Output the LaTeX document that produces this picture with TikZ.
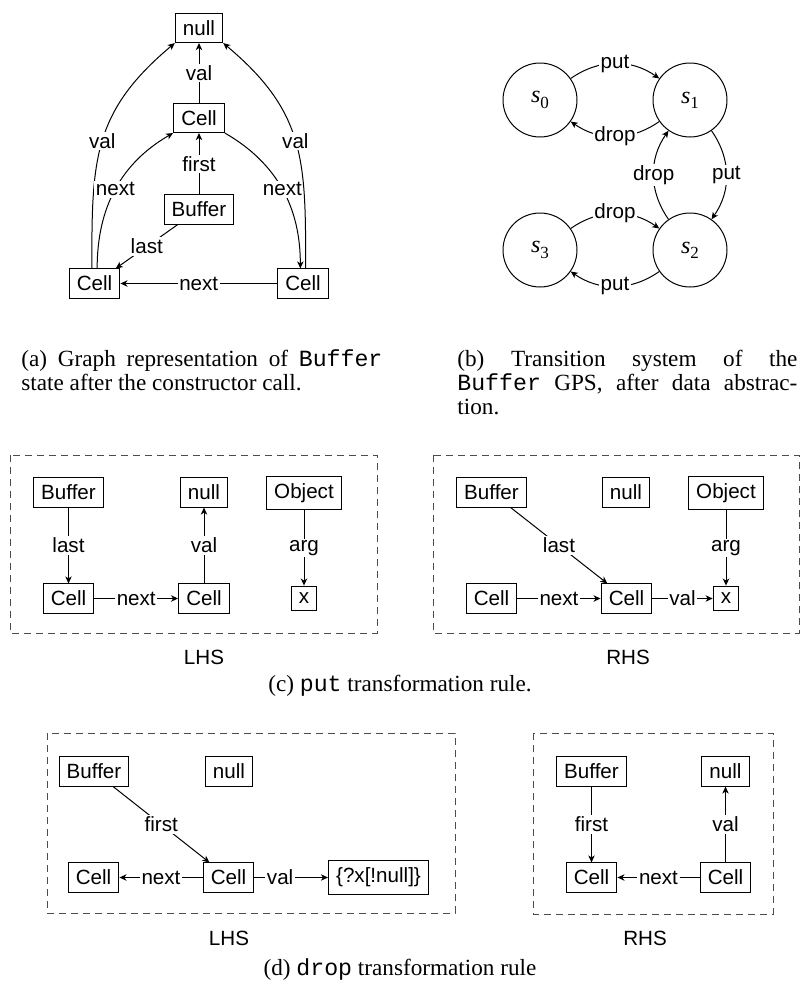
\documentclass[tikz,border=0pt]{standalone}
\usepackage{fontspec}
\setmainfont{Liberation Serif}
\setsansfont{Liberation Sans}
\setmonofont{Liberation Mono}
\usetikzlibrary{arrows.meta}
\newcommand{\capfont}{\rmfamily\fontsize{11.6}{12}\selectfont}
\newcommand{\stlab}[1]{{\itshape s}\raisebox{-0.22em}{\fontsize{8.5}{10}\selectfont #1}}
\tikzset{
  obj/.style={draw, line width=0.5pt, rectangle, inner xsep=3.85pt, inner ysep=3.5pt, font=\sffamily\fontsize{10.3}{12}\selectfont},
  lbl/.style={fill=white, inner sep=0.8pt, font=\sffamily\fontsize{10.3}{12}\selectfont},
  arr/.style={-{Stealth[length=3.5pt,width=3.2pt,inset=1pt]}, line width=0.5pt},
  state/.style={draw, circle, minimum size=37pt, inner sep=0pt, line width=0.5pt, font=\fontsize{12}{14}\selectfont},
  frame/.style={draw=black!70, dash pattern=on 3.5pt off 2.5pt, line width=0.5pt},
  capt/.style={anchor=base west, inner sep=0pt, font=\capfont},
  capc/.style={anchor=base, inner sep=0pt, font=\capfont},
  side/.style={anchor=base, inner sep=0pt, font=\sffamily\fontsize{10.3}{12}\selectfont},
}
\begin{document}
\begin{tikzpicture}[x=0.5pt,y=0.5pt]
\useasboundingbox (0,0) rectangle (801,-986);

% ---------- (a) ----------
\node[obj] (an) at (199,-28) {null};
\node[obj] (ac) at (199,-118) {Cell};
\node[obj] (ab) at (199,-209.5) {Buffer};
\node[obj] (al) at (94.5,-283.5) {Cell};
\node[obj] (ar) at (303,-283.5) {Cell};
\draw[arr] (ac) -- node[lbl]{val} (an);
\draw[arr] (ab) -- node[lbl]{first} (ac);
\draw[arr] (ab) -- node[lbl]{last} (al);
\draw[arr] (ar) -- node[lbl]{next} (al);
\draw[arr] (al.100) to[out=90,in=-140,looseness=1.15] node[lbl]{val} (an.south west);
\draw[arr] (al.80) to[out=90,in=-150] node[lbl]{next} (ac.south west);
\draw[arr] (ac.south east) to[out=-30,in=90] node[lbl]{next} (ar.100);
\draw[arr] (ar.80) to[out=90,in=-40,looseness=1.15] node[lbl]{val} (an.south east);

% ---------- (b) ----------
\node[state] (s0) at (540,-100) {\stlab{0}};
\node[state] (s1) at (690,-100) {\stlab{1}};
\node[state] (s3) at (540,-250) {\stlab{3}};
\node[state] (s2) at (690,-250) {\stlab{2}};
\draw[arr] (s0) to[bend left=35] node[lbl]{put} (s1);
\draw[arr] (s1) to[bend left=35] node[lbl]{drop} (s0);
\draw[arr] (s1) to[bend left=35] node[lbl]{put} (s2);
\draw[arr] (s2) to[bend left=35] node[lbl]{drop} (s1);
\draw[arr] (s3) to[bend left=35] node[lbl]{drop} (s2);
\draw[arr] (s2) to[bend left=35] node[lbl]{put} (s3);

% captions (a), (b)
\node[capt] (capa1) at (21,-366) {\makebox[180.5pt][s]{(a) Graph representation of \texttt{Buffer}}};
\node[capt] (capa2) at (21,-390) {state after the constructor call.};
\node[capt] (capb1) at (457,-366) {\makebox[170pt][s]{(b) Transition system of the}};
\node[capt] (capb2) at (457,-390) {\makebox[170pt][s]{\texttt{Buffer} GPS, after data abstrac-}};
\node[capt] (capb3) at (457,-414) {tion.};

% ---------- (c) ----------
\draw[frame] (10,-455) rectangle (377,-633);
\draw[frame] (433,-455) rectangle (799,-633);
\node[obj] (cb) at (68.5,-492.5) {Buffer};
\node[obj] (cn) at (204,-492.5) {null};
\node[obj] (co) at (304,-493) {Object};
\node[obj] (cc1) at (68.5,-598.5) {Cell};
\node[obj] (cc2) at (204,-598.5) {Cell};
\node[obj] (cx) at (304,-598.5) {x};
\draw[arr] (cb) -- node[lbl]{last} (cc1);
\draw[arr] (cc1) -- node[lbl]{next} (cc2);
\draw[arr] (cc2) -- node[lbl]{val} (cn);
\draw[arr] (co) -- node[lbl]{arg} (cx);

\node[obj] (rb) at (491.5,-492.5) {Buffer};
\node[obj] (rn) at (626,-492.5) {null};
\node[obj] (ro) at (726,-493) {Object};
\node[obj] (rc1) at (491.5,-598.5) {Cell};
\node[obj] (rc2) at (626.5,-598.5) {Cell};
\node[obj] (rx) at (726,-598.5) {x};
\draw[arr] (rb) -- node[lbl]{last} (rc2);
\draw[arr] (rc1) -- node[lbl]{next} (rc2);
\draw[arr] (rc2) -- node[lbl]{val} (rx);
\draw[arr] (ro) -- node[lbl]{arg} (rx);

\node[side] (clhs) at (204,-664) {LHS};
\node[side] (crhs) at (628,-664) {RHS};
\node[capc] (capc) at (400,-691) {(c) \texttt{put} transformation rule.};

% ---------- (d) ----------
\draw[frame] (47,-733) rectangle (455,-913);
\draw[frame] (533,-733) rectangle (773,-914);
\node[obj] (db) at (94,-771.5) {Buffer};
\node[obj] (dn) at (229,-771.5) {null};
\node[obj] (dc1) at (93.5,-877.5) {Cell};
\node[obj] (dc2) at (228.5,-877.5) {Cell};
\node[obj] (dv) at (378.5,-877.5) {\{?x[!null]\}};
\draw[arr] (db) -- node[lbl]{first} (dc2);
\draw[arr] (dc2) -- node[lbl]{next} (dc1);
\draw[arr] (dc2) -- node[lbl,pos=0.35]{val} (dv);

\node[obj] (eb) at (591.5,-771.5) {Buffer};
\node[obj] (en) at (725.5,-771.5) {null};
\node[obj] (ec1) at (591.5,-877.5) {Cell};
\node[obj] (ec2) at (725.5,-877.5) {Cell};
\draw[arr] (eb) -- node[lbl]{first} (ec1);
\draw[arr] (ec2) -- node[lbl]{next} (ec1);
\draw[arr] (ec2) -- node[lbl]{val} (en);

\node[side] (dlhs) at (229,-945) {LHS};
\node[side] (drhs) at (645,-945) {RHS};
\node[capc] (capd) at (400,-975) {(d) \texttt{drop} transformation rule};
\end{tikzpicture}
\end{document}
